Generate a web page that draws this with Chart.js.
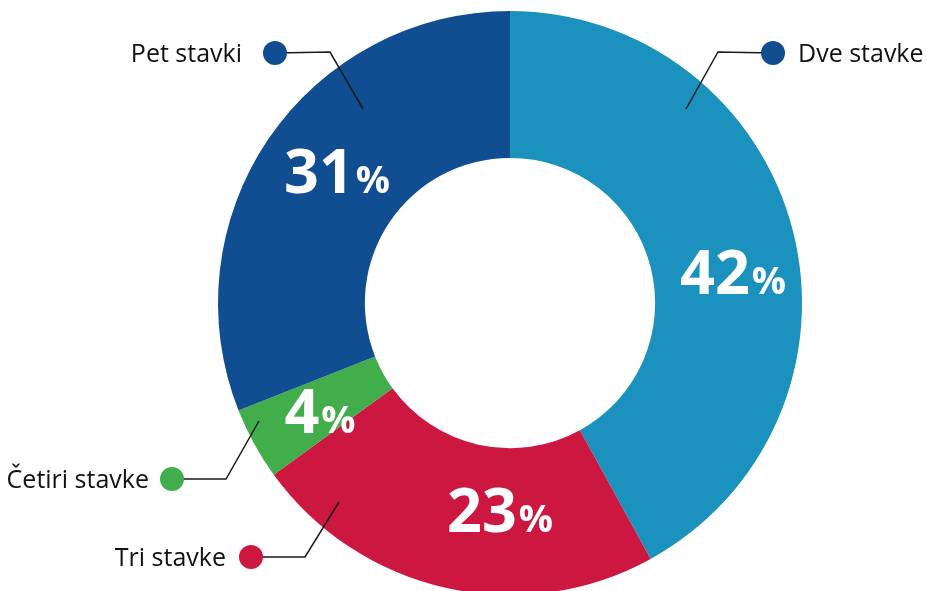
<!DOCTYPE html>
<html>
<head>
<meta charset="utf-8">
<script src="https://cdn.jsdelivr.net/npm/chart.js@4/dist/chart.umd.min.js"></script>
<style>
  html, body { margin: 0; padding: 0; background: #fff; overflow: hidden; }
  canvas { display: block; }
</style>
</head>
<body>
<canvas id="stavke" width="927" height="606"></canvas>
<script>
const categories = ["Dve stavke", "Tri stavke", "Četiri stavke", "Pet stavki"];
const shares = [42, 23, 4, 31];
const sliceColors = ["#1b91bd", "#cc1841", "#41ad4b", "#114d91"];
const dotColors = ["#114d91", "#cc1841", "#41ad4b", "#114d91"];

// where things sit, relative to the donut centre (px)
const pctAnchors = [[223, -9], [-10, 229], [-190, 130], [-173, -110]];
const callouts = [
    // inner end, elbow, dot, text side + gap from dot centre
    { from: [176, -194], elbow: [208, -251], dot: [263, -250], side: "right", gap: 25 },
    { from: [-171, 199], elbow: [-205, 254], dot: [-259, 254], side: "left", gap: 25 },
    { from: [-251, 118], elbow: [-284, 176], dot: [-338, 176], side: "left", gap: 23 },
    { from: [-147, -194], elbow: [-180, -251], dot: [-235, -250], side: "left", gap: 33 }
];

const labelsPlugin = {
    id: 'labelsPlugin',
    afterDraw(chart) {
        const ctx = chart.ctx;
        const arc = chart.getDatasetMeta(0).data[0];
        const cx = arc.x, cy = arc.y;
        ctx.save();

        // leader lines, dots, names
        callouts.forEach(function(c, i) {
            ctx.strokeStyle = "#1a1a1a";
            ctx.lineWidth = 1.5;
            ctx.beginPath();
            ctx.moveTo(cx + c.from[0], cy + c.from[1]);
            ctx.lineTo(cx + c.elbow[0], cy + c.elbow[1]);
            ctx.lineTo(cx + c.dot[0], cy + c.dot[1]);
            ctx.stroke();

            ctx.fillStyle = dotColors[i];
            ctx.beginPath();
            ctx.arc(cx + c.dot[0], cy + c.dot[1], 12, 0, Math.PI * 2);
            ctx.fill();

            ctx.fillStyle = "#111";
            ctx.font = "25px 'Open Sans'";
            ctx.textBaseline = "alphabetic";
            if (c.side === "right") {
                ctx.textAlign = "left";
                ctx.fillText(categories[i], cx + c.dot[0] + c.gap, cy + c.dot[1] + 9);
            } else {
                ctx.textAlign = "right";
                ctx.fillText(categories[i], cx + c.dot[0] - c.gap, cy + c.dot[1] + 9);
            }
        });

        // big percentages
        ctx.fillStyle = "#fff";
        ctx.textAlign = "left";
        shares.forEach(function(v, i) {
            const num = String(v);
            ctx.font = "bold 61px 'Open Sans'";
            const wNum = ctx.measureText(num).width;
            ctx.font = "bold 38px 'Open Sans'";
            const wPct = ctx.measureText("%").width;
            const x0 = cx + pctAnchors[i][0] - (wNum + wPct + 2) / 2;
            const y0 = cy + pctAnchors[i][1];
            ctx.font = "bold 61px 'Open Sans'";
            ctx.fillText(num, x0, y0);
            ctx.font = "bold 38px 'Open Sans'";
            ctx.fillText("%", x0 + wNum + 2, y0);
        });
        ctx.restore();
    }
};

document.addEventListener("DOMContentLoaded", function() {
    const ctx = document.getElementById('stavke').getContext('2d');
    new Chart(ctx, {
        type: 'doughnut',
        data: {
            labels: categories,
            datasets: [{
                data: shares,
                backgroundColor: sliceColors,
                borderWidth: 0,
            }]
        },
        options: {
            responsive: false,
            animation: false,
            cutout: '49.7%',
            layout: {
                padding: { left: 218, right: 125, top: 11, bottom: 11 },
            },
            plugins: {
                legend: { display: false },
                tooltip: { enabled: false },
            },
        },
        plugins: [labelsPlugin],
    });
});
</script>
</body>
</html>
